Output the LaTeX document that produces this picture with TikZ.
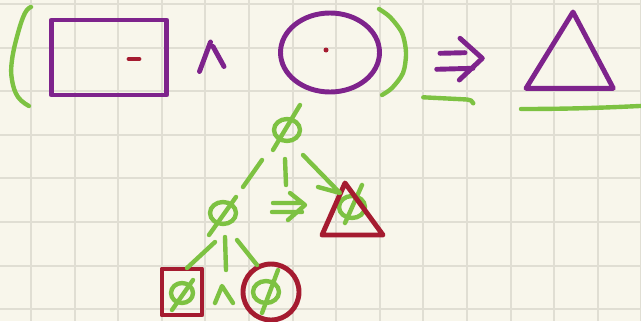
\documentclass[tikz,border=0pt]{standalone}
\usepackage{tikz}
\usetikzlibrary{shapes.geometric}
\definecolor{paper}{RGB}{248,246,235}
\definecolor{gridc}{RGB}{224,222,211}
\definecolor{penGreen}{RGB}{125,194,66}
\definecolor{penPurple}{RGB}{126,35,140}
\definecolor{penRed}{RGB}{165,27,48}
\tikzset{
  grn/.style={draw=penGreen, line width=2.5pt, line cap=round, line join=round},
  prp/.style={draw=penPurple, line width=2.8pt, line cap=round, line join=round},
  rdd/.style={draw=penRed, line width=2.8pt, line cap=round, line join=round},
  leer/.style={ellipse, grn, minimum width=0.52cm, minimum height=0.44cm, inner sep=0pt},
}

\begin{document}
\begin{tikzpicture}[x=0.02cm, y=-0.02cm]
                \fill[paper] (0,0) rectangle (641,321);
                \useasboundingbox (0,0) rectangle (641,321);
                \clip (0,0) rectangle (641,321);
                \foreach \k in {0,...,14} {
                  \draw[gridc, line width=1.1pt] ({31+43.6*\k},0) -- ({31+43.6*\k},321);
                }
                \foreach \k in {0,...,7} {
                  \draw[gridc, line width=1.1pt] (0,{4+43.6*\k}) -- (641,{4+43.6*\k});
                }

                % ( box /\ ellipse ) => triangle
                \draw[grn] plot[smooth, tension=0.7] coordinates {(31,7) (25,13) (18,33) (12,60) (12,80) (18,97) (29,106)};
                \draw[prp] (51.5,20) rectangle (166.5,95);
                \draw[rdd] (129,59) -- (139,59);
                \draw[prp] (199.5,71.5) -- (210.5,42) (213,46.5) -- (224,66.5);
                \draw[prp] (330,52.5) ellipse [x radius=49.5, y radius=39.5];
                \fill[penRed] (326,50) circle [radius=2.5];
                \draw[grn] plot[smooth] coordinates {(379,9) (390,17) (402,33) (406,53) (403,73) (392,88) (382,95)};
                \draw[prp] (440,53.3) -- (465,52.7) (436.7,69.3) -- (473,68.3) (460,38.3) -- (482.3,58.3) -- (459.3,80);
                \draw[grn] (423.3,97.3) -- (467,99.5) -- (471,100.5) -- (473.3,103.3);
                \draw[prp] (573,12) -- (526,88.3) -- (613.3,88.3) -- cycle;
                \draw[grn] (521,109) .. controls (580,109) and (620,107) .. (660,105);

                % tree of empty sets
                \node[leer] (top) at (287,130) {};
                \node[leer] (lft) at (223,213) {};
                \node[leer] (tri) at (352,207) {};
                \node[leer, minimum width=0.44cm, minimum height=0.4cm] (sq) at (182,293) {};
                \node[leer] (rg) at (266,292) {};
                \coordinate (imp) at (288,207);
                \coordinate (wedge) at (223,295);
                \foreach \n/\a/\b/\c/\d in {top/13/-25/-14/20, lft/13/-16/-14/22, tri/10/-22/-7/16, sq/11/-13/-10/17, rg/12/-22/-4/21} {
                  \draw[grn] ([shift={(\a,\b)}]\n.center) -- ([shift={(\c,\d)}]\n.center);
                }
                \draw[rdd] (345,183) -- (322,235) -- (383,235) -- cycle;
                \draw[rdd] (162,269) rectangle (202,315);
                \draw[rdd] (271,292) circle [radius=28];

                \draw[grn] ([shift={(-25,30)}]top.center) -- ([shift={(20,-26)}]lft.center);
                \draw[grn] ([shift={(-2,29)}]top.center) -- ([shift={(-2,-22)}]imp);
                \draw[grn] ([shift={(16,25)}]top.center) -- ([shift={(-12,-14)}]tri.center) coordinate (tip) -- ++(-22,-6);
                \draw[grn] ([shift={(-8,29)}]lft.center) -- ([shift={(5,-25)}]sq.center);
                \draw[grn] ([shift={(2,24)}]lft.center) -- ([shift={(3,-25)}]wedge);
                \draw[grn] ([shift={(14,27)}]lft.center) -- ([shift={(-9,-27)}]rg.center);
                \draw[grn] ([shift={(-15,-4)}]imp) -- ++(27,0) ([shift={(-16,5)}]imp) -- ++(30,0)
                  ([shift={(2,-14)}]imp) -- ++(15,12) -- ++(-17,15);
                \draw[grn] ([shift={(-8,8)}]wedge) -- ++(7,-17) -- ++(11,17);
            \end{tikzpicture}
\end{document}
